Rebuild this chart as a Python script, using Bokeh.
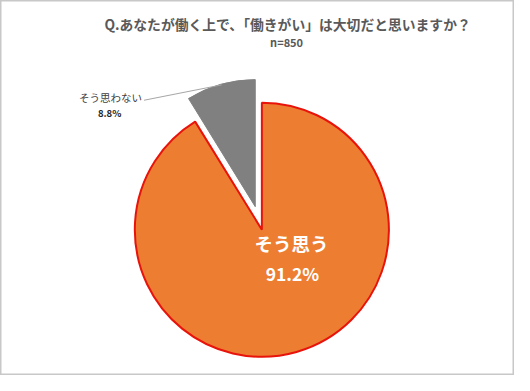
import math
from bokeh.plotting import figure
from bokeh.models import Range1d, ColumnDataSource
from bokeh.core.properties import value
from bokeh.embed import file_html
from bokeh.resources import INLINE

# ---- data ----
title_text = "Q.あなたが働く上で、「働きがい」は大切だと思いますか？"
subtitle_text = "n=850"
categories = ["そう思う", "そう思わない"]
percents = [91.2, 8.8]
colors = ["#ED7D31", "#808080"]
outline_colors = ["#E8140C", "#808080"]
explode = [0, 25]

# ---- layout: reference coords (530x391, y downward) mapped onto the figure ----
RW, RH = 530, 391
W, H = 514, 375
p = figure(width=W, height=H, output_backend="svg", toolbar_location=None,
           x_range=Range1d(0, RW), y_range=Range1d(0, RH),
           min_border=0)
p.axis.visible = False
p.grid.visible = False
p.outline_line_color = "#C8C8C8"
p.outline_line_width = 2
p.background_fill_color = "white"
p.border_fill_color = "white"

def Y(py):
    return RH - py

cx, cy, r = 269.5, Y(239), 131

total = sum(percents)
start = math.pi / 2
xs, ys, sa, ea = [], [], [], []
for val, ex in zip(percents, explode):
    span = 2 * math.pi * val / total
    end = start - span
    mid = (start + end) / 2
    xs.append(cx + ex * math.cos(mid))
    ys.append(cy + ex * math.sin(mid))
    sa.append(start)
    ea.append(end)
    start = end

src = ColumnDataSource(dict(x=xs, y=ys, sa=sa, ea=ea, fill=colors, line=outline_colors,
                            lw=[2, 1]))
p.wedge(x="x", y="y", radius=r, start_angle="sa", end_angle="ea", direction="clock",
        fill_color="fill", line_color="line", line_width="lw", source=src)

# leader line
p.line(x=[148, 228], y=[Y(104), Y(88)], line_color="#A6A6A6", line_width=1)

font = value("Noto Sans CJK JP")

# title
p.text(x=[296], y=[Y(25)], text=[title_text], text_font=font, text_font_size="13.8px",
       text_font_style="bold", text_color="#595959", text_align="center", text_baseline="middle")
p.text(x=[295], y=[Y(43)], text=[subtitle_text], text_font=font, text_font_size="11px",
       text_font_style="bold", text_color="#595959", text_align="center", text_baseline="middle")

# small slice label
p.text(x=[113.5], y=[Y(101)], text=[categories[1]], text_font=font, text_font_size="10.5px",
       text_color="#404040", text_align="center", text_baseline="middle")
p.text(x=[112.5], y=[Y(117)], text=[f"{percents[1]}%"], text_font=font, text_font_size="9.5px",
       text_font_style="bold", text_color="#262626", text_align="center", text_baseline="middle")

# big slice label
p.text(x=[300], y=[Y(253)], text=[categories[0]], text_font=font, text_font_size="18.5px",
       text_font_style="bold", text_color="white", text_align="center", text_baseline="middle")
p.text(x=[301], y=[Y(285)], text=[f"{percents[0]}%"], text_font=font, text_font_size="17.5px",
       text_font_style="bold", text_color="white", text_align="center", text_baseline="middle")

open("out.html", "w").write(file_html(p, INLINE))
